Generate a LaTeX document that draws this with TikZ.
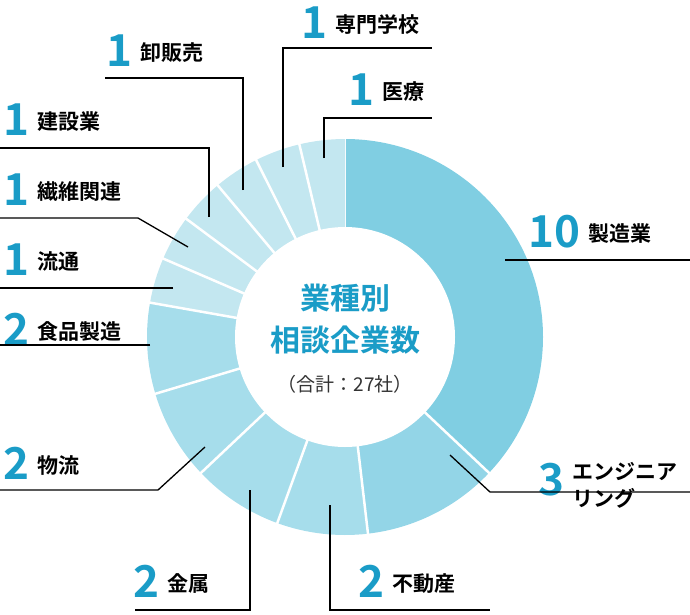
\documentclass[tikz,border=0pt]{standalone}
\usepackage{fontspec}
\setmainfont{Noto Sans CJK JP}
\newfontfamily\jpb{Noto Sans CJK JP Bold}
\definecolor{numblue}{HTML}{1A9CC7}
\definecolor{cA}{HTML}{80CEE2}
\definecolor{cB}{HTML}{93D5E7}
\definecolor{cC}{HTML}{A6DDEB}
\definecolor{cD}{HTML}{C3E7F0}
\begin{document}
\begin{tikzpicture}[x=1pt,y=-1pt,
  num/.style={inner sep=0pt,anchor=base west,font=\jpb\fontsize{44}{44}\selectfont,text=numblue},
  lab/.style={inner sep=0pt,anchor=base west,yshift=6pt,font=\jpb\fontsize{21}{27}\selectfont,text=black,align=left},
  lead/.style={line width=1.3pt,black}]
\useasboundingbox (0,0) rectangle (690,614);
\def\R{198}\def\r{110}
\begin{scope}
\def\u{13.3333}
\foreach \s/\e/\c in {0/10/cA,10/13/cB,13/15/cC,15/17/cC,17/19/cC,19/21/cC,21/22/cD,22/23/cD,23/24/cD,24/25/cD,25/26/cD,26/27/cD}{
  \pgfmathsetmacro\aa{-90+\s*\u}\pgfmathsetmacro\bb{-90+\e*\u}
  \fill[\c] (345,337) ++(\aa:\R) arc[start angle=\aa,end angle=\bb,radius=\R] -- (345,337) -- cycle;
  \draw[white,line width=2.5pt] (345,337) -- ++(\aa:\R+2);
}
\fill[white] (345,337) circle[radius=\r];
\end{scope}
\node[font=\jpb\fontsize{30}{42}\selectfont,text=numblue,align=center] (ct) at (345,319) {業種別\\相談企業数};
\node[font=\fontsize{19}{22}\selectfont,text=black!80] (ctot) at (345,384) {（合計：27社）};
% labels
\node[num] (n1) at (528,247) {10}; \node[lab] (l1) at (n1.base east) {\hspace{8pt}製造業};
\node[num] (n2) at (538,495) {3}; \node[lab] (l2) at ([yshift=-17pt]n2.base east) {\hspace{8pt}エンジニア\\\hspace{8pt}リング};
\node[num] (n3) at (358,597) {2}; \node[lab] (l3) at (n3.base east) {\hspace{8pt}不動産};
\node[num] (n4) at (133,597) {2}; \node[lab] (l4) at (n4.base east) {\hspace{8pt}金属};
\node[num] (n5) at (3,479) {2}; \node[lab] (l5) at (n5.base east) {\hspace{8pt}物流};
\node[num] (n6) at (3,345) {2}; \node[lab] (l6) at (n6.base east) {\hspace{8pt}食品製造};
\node[num] (n7) at (3,275) {1}; \node[lab] (l7) at (n7.base east) {\hspace{8pt}流通};
\node[num] (n8) at (3,205) {1}; \node[lab] (l8) at (n8.base east) {\hspace{8pt}繊維関連};
\node[num] (n9) at (3,135) {1}; \node[lab] (l9) at (n9.base east) {\hspace{8pt}建設業};
\node[num] (n10) at (106,66) {1}; \node[lab] (l10) at (n10.base east) {\hspace{8pt}卸販売};
\node[num] (n11) at (301,38) {1}; \node[lab] (l11) at (n11.base east) {\hspace{8pt}専門学校};
\node[num] (n12) at (348,105) {1}; \node[lab] (l12) at (n12.base east) {\hspace{8pt}医療};
% leader coordinates
\coordinate (p1) at (505,260); \coordinate (q1) at (690,260);
\coordinate (p2) at (450,455); \coordinate (q2) at (690,492);
\coordinate (p3) at (330,505); \coordinate (q3) at (490,610);
\coordinate (p4) at (250,490); \coordinate (q4) at (135,610);
\coordinate (p5) at (205,447); \coordinate (q5) at (0,490);
\coordinate (p6) at (150,345); \coordinate (q6) at (0,345);
\coordinate (p7) at (173,288); \coordinate (q7) at (0,288);
\coordinate (p8) at (188,247); \coordinate (q8) at (0,218);
\coordinate (p9) at (209,217); \coordinate (q9) at (0,148);
\coordinate (p10) at (243,190); \coordinate (q10) at (105,78);
\coordinate (p11) at (283,167); \coordinate (q11) at (432,48);
\coordinate (p12) at (324,158); \coordinate (q12) at (432,118);
\draw[lead] (p1) -- (q1);
\draw[lead] (p2) -- (490,492) -- (q2);
\draw[lead] (p3) |- (q3);
\draw[lead] (p4) |- (q4);
\draw[lead] (p5) -- (158,490) -- (q5);
\draw[lead] (p6) -- (q6);
\draw[lead] (p7) -- (q7);
\draw[lead] (p8) -- (138,218) -- (q8);
\draw[lead] (p9) |- (q9);
\draw[lead] (p10) |- (q10);
\draw[lead] (p11) |- (q11);
\draw[lead] (p12) |- (q12);
\end{tikzpicture}
\end{document}
